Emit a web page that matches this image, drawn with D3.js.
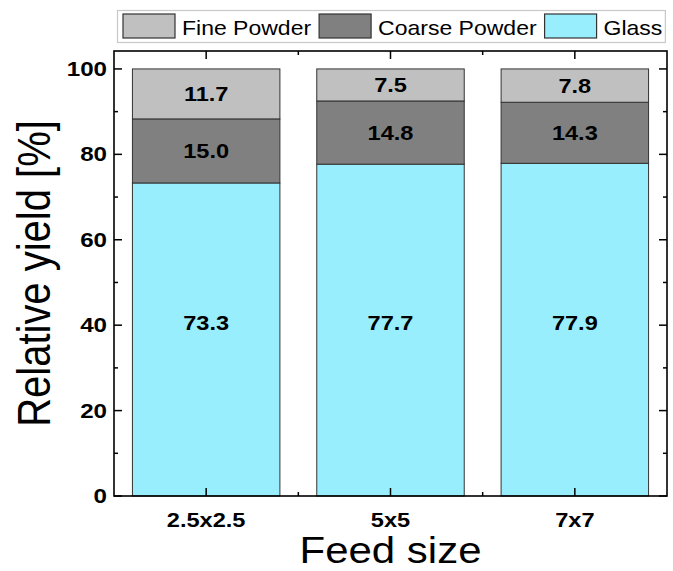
<!DOCTYPE html>
<html>
<head>
<meta charset="utf-8">
<script src="https://cdn.jsdelivr.net/npm/d3@7"></script>
<style>
  html, body { margin: 0; padding: 0; background: #fff; }
  svg { display: block; font-family: "Liberation Sans", Arial, sans-serif; }
</style>
</head>
<body>
<svg id="chart" width="673" height="571"></svg>
<script>
// Feed sizes and the yield split of each fraction (%)
const categories = ["2.5x2.5", "5x5", "7x7"];
const glass = [73.3, 77.7, 77.9];
const coarsePowder = [15.0, 14.8, 14.3];
const finePowder = [11.7, 7.5, 7.8];
const seriesNames = ["Glass", "Coarse Powder", "Fine Powder"];
const legendOrder = ["Fine Powder", "Coarse Powder", "Glass"];
const yMajorTicks = [0, 20, 40, 60, 80, 100];
const yMinorTicks = [10, 30, 50, 70, 90];

const colors = { "Fine Powder": "#c0c0c0", "Coarse Powder": "#808080", "Glass": "#99eefd" };
const SX = 1.15; // horizontal stretch of the lettering

const svg = d3.select("#chart");
const margin = { left: 114, right: 6, top: 51, bottom: 75 };
const W = 673, H = 571;
const x0 = margin.left, x1 = W - margin.right, y0 = H - margin.bottom, y1 = margin.top;

const x = d3.scaleBand().domain(categories).range([x0, x1]).paddingInner(0.2).paddingOuter(0.1);
const y = d3.scaleLinear().domain([0, 104.2]).range([y0, y1]);

// stacked table
const rows = categories.map((c, i) => ({
  cat: c, "Glass": glass[i], "Coarse Powder": coarsePowder[i], "Fine Powder": finePowder[i]
}));
const stacked = d3.stack().keys(seriesNames)(rows);

function stretchedText(g, px, py, rot) {
  return g.append("text")
    .attr("transform", `translate(${px},${py}) scale(${SX},1)` + (rot ? ` rotate(${rot})` : ""));
}

// bars
const layers = svg.append("g").selectAll("g").data(stacked).join("g")
  .attr("fill", d => colors[d.key]);
layers.selectAll("rect").data(d => d).join("rect")
  .attr("x", d => x(d.data.cat))
  .attr("width", x.bandwidth())
  .attr("y", d => y(d[1]))
  .attr("height", d => y(d[0]) - y(d[1]))
  .attr("stroke", "#333")
  .attr("stroke-width", 1);

// value labels
const labelG = svg.append("g");
stacked.forEach(layer => {
  layer.forEach(d => {
    const cx = x(d.data.cat) + x.bandwidth() / 2;
    const v = d.data[layer.key];
    const cy = layer.key === "Glass" ? y(40.5) : y((d[0] + d[1]) / 2);
    stretchedText(labelG, cx, cy, 0)
      .attr("text-anchor", "middle")
      .attr("dominant-baseline", "central")
      .attr("font-size", 20.5)
      .attr("font-weight", "bold")
      .attr("fill", "#000")
      .text(v.toFixed(1));
  });
});

// frame
svg.append("rect")
  .attr("x", x0).attr("y", y1)
  .attr("width", x1 - x0).attr("height", y0 - y1)
  .attr("fill", "none").attr("stroke", "#000").attr("stroke-width", 1.6);

// ticks, all pointing inward
const tickG = svg.append("g").attr("stroke", "#000").attr("stroke-width", 1.5);
const majorLen = 8, minorLen = 4;
yMajorTicks.forEach(t => {
  tickG.append("line").attr("x1", x0).attr("x2", x0 + majorLen).attr("y1", y(t)).attr("y2", y(t));
  tickG.append("line").attr("x1", x1).attr("x2", x1 - majorLen).attr("y1", y(t)).attr("y2", y(t));
});
yMinorTicks.forEach(t => {
  tickG.append("line").attr("x1", x0).attr("x2", x0 + minorLen).attr("y1", y(t)).attr("y2", y(t));
  tickG.append("line").attr("x1", x1).attr("x2", x1 - minorLen).attr("y1", y(t)).attr("y2", y(t));
});
categories.forEach((c, i) => {
  const cx = x(c) + x.bandwidth() / 2;
  tickG.append("line").attr("x1", cx).attr("x2", cx).attr("y1", y0).attr("y2", y0 - majorLen);
  tickG.append("line").attr("x1", cx).attr("x2", cx).attr("y1", y1).attr("y2", y1 + majorLen);
  if (i < categories.length - 1) {
    const mx = (cx + x(categories[i + 1]) + x.bandwidth() / 2) / 2;
    tickG.append("line").attr("x1", mx).attr("x2", mx).attr("y1", y0).attr("y2", y0 - minorLen);
    tickG.append("line").attr("x1", mx).attr("x2", mx).attr("y1", y1).attr("y2", y1 + minorLen);
  }
});

// tick labels
const axG = svg.append("g");
yMajorTicks.forEach(t => {
  stretchedText(axG, x0 - 7, y(t), 0)
    .attr("text-anchor", "end")
    .attr("dominant-baseline", "central")
    .attr("font-size", 21).attr("font-weight", "bold")
    .text(t);
});
categories.forEach(c => {
  stretchedText(axG, x(c) + x.bandwidth() / 2, y0 + 31, 0)
    .attr("text-anchor", "middle")
    .attr("font-size", 20.5).attr("font-weight", "bold")
    .text(c);
});

// axis titles
stretchedText(axG, (x0 + x1) / 2, 563, 0)
  .attr("text-anchor", "middle")
  .attr("font-size", 36.5)
  .text("Feed size");
stretchedText(axG, 50, (y0 + y1) / 2, -90)
  .attr("text-anchor", "middle")
  .attr("font-size", 40)
  .text("Relative yield [%]");

// legend
const lg = svg.append("g");
const box = lg.append("rect")
  .attr("x", 117.5).attr("y", 10.5).attr("height", 32)
  .attr("fill", "#fff").attr("stroke", "#c8c8c8").attr("stroke-width", 1.2);
let lx = 123;
legendOrder.forEach(name => {
  lg.append("rect")
    .attr("x", lx).attr("y", 14).attr("width", 52).attr("height", 24)
    .attr("fill", colors[name]).attr("stroke", "#333").attr("stroke-width", 1.2);
  lx += 52 + 7;
  const t = stretchedText(lg, lx, 35, 0).attr("font-size", 20).text(name);
  lx += t.node().getComputedTextLength() * SX + 8;
});
box.attr("width", lx - 8 + 3 - 117.5);
</script>
</body>
</html>
